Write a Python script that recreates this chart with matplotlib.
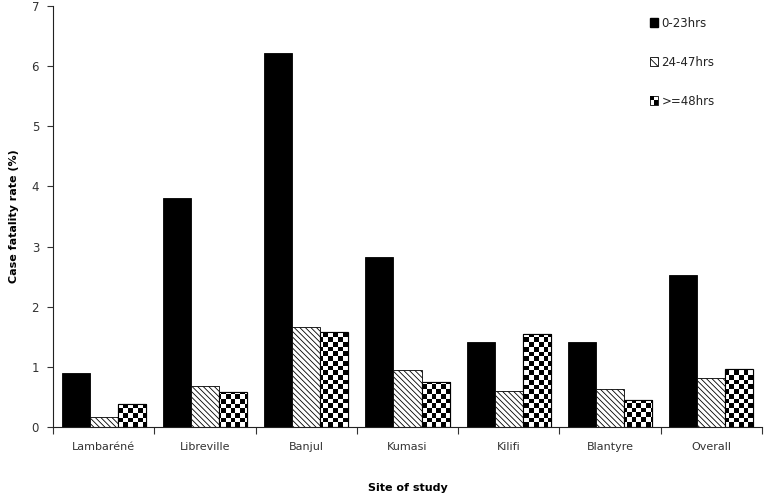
import numpy as np
import matplotlib
matplotlib.use("Agg")
import matplotlib.pyplot as plt
from matplotlib.patches import Rectangle
from matplotlib.legend_handler import HandlerBase

sites = ["Lambaréné", "Libreville", "Banjul", "Kumasi", "Kilifi", "Blantyre", "Overall"]
series_names = ["0-23hrs", "24-47hrs", ">=48hrs"]
v_0_23 = [0.89, 3.81, 6.22, 2.83, 1.42, 1.41, 2.53]
v_24_47 = [0.16, 0.68, 1.66, 0.94, 0.60, 0.64, 0.81]
v_48 = [0.38, 0.58, 1.58, 0.74, 1.55, 0.45, 0.97]
yticks = [0, 1, 2, 3, 4, 5, 6, 7]

plt.rcParams['font.family'] = ['DejaVu Sans']
plt.rcParams['hatch.linewidth'] = 0.6

fig = plt.figure(figsize=(7.66, 4.98), dpi=100)
ax = fig.add_axes([53/766, 1-427/498, 709/766, 421/498])

x = np.arange(len(sites))
w = 0.277
b1 = ax.bar(x - w, v_0_23, w, color='black', edgecolor='black', linewidth=0.6)
b2 = ax.bar(x, v_24_47, w, color='white', edgecolor='black', hatch='\\\\\\\\\\\\', linewidth=0.6)
b3 = ax.bar(x + w, v_48, w, color='white', edgecolor='black', linewidth=0.8)

ax.set_xlim(-0.5, len(sites) - 0.5)
ax.set_ylim(0, 7)

# checkerboard fill for the >=48hrs series
nx, ny = 152, 90
checker = (np.add.outer(np.arange(ny), np.arange(nx)) % 2).astype(float)
for bar in b3:
    im = ax.imshow(checker, cmap='gray', extent=[0, 1, 0, 1], transform=ax.transAxes,
                   interpolation='nearest', aspect='auto', zorder=bar.get_zorder() + 0.1)
    im.set_clip_path(bar)
    r = Rectangle(bar.get_xy(), bar.get_width(), bar.get_height(), fill=False,
                  edgecolor='black', linewidth=0.8, zorder=bar.get_zorder() + 0.2)
    ax.add_patch(r)
ax.set_xlim(-0.5, len(sites) - 0.5)
ax.set_ylim(0, 7)

for s in ['top', 'right']:
    ax.spines[s].set_visible(False)
for s in ['left', 'bottom']:
    ax.spines[s].set_linewidth(0.8)
    ax.spines[s].set_color('#222222')

ax.set_yticks(yticks)
ax.set_yticklabels([str(t) for t in yticks], fontsize=8.5, color='#333333')
ax.tick_params(axis='y', length=4, width=0.8, direction='out', pad=6, colors='#333333')
ax.set_xticks(x)
ax.set_xticklabels(sites, fontsize=8, color='#333333')
ax.tick_params(axis='x', which='major', length=0, pad=11)
ax.set_xticks(np.arange(len(sites) + 1) - 0.5, minor=True)
ax.tick_params(axis='x', which='minor', length=5, width=0.8, direction='out', color='#333333')

ax.set_ylabel("Case fatality rate (%)", fontsize=8, fontweight='bold', labelpad=9)
ax.set_xlabel("Site of study", fontsize=8, fontweight='bold', labelpad=22)


class CheckerHandler(HandlerBase):
    def create_artists(self, legend, orig_handle, xdescent, ydescent, width, height, fontsize, trans):
        x0, y0 = -xdescent, -ydescent
        arts = [Rectangle((x0, y0), width, height, facecolor='white', edgecolor='black', lw=0.6, transform=trans)]
        arts.append(Rectangle((x0, y0 + height / 2), width / 2, height / 2, facecolor='black', edgecolor='none', transform=trans))
        arts.append(Rectangle((x0 + width / 2, y0), width / 2, height / 2, facecolor='black', edgecolor='none', transform=trans))
        return arts


h1 = Rectangle((0, 0), 1, 1, facecolor='black', edgecolor='black')
h2 = Rectangle((0, 0), 1, 1, facecolor='white', edgecolor='black', hatch='\\\\\\\\', lw=0.6)
h3 = Rectangle((0, 0), 1, 1)
leg = fig.legend([h1, h2, h3], series_names, loc='upper left', bbox_to_anchor=(639/766, 1-6/498),
                 frameon=False, fontsize=8.5, handlelength=0.7, handleheight=0.7,
                 handletextpad=0.3, labelspacing=2.2, handler_map={h3: CheckerHandler()})
for t in leg.get_texts():
    t.set_color('#222222')

fig.savefig("out.png", dpi=100)
